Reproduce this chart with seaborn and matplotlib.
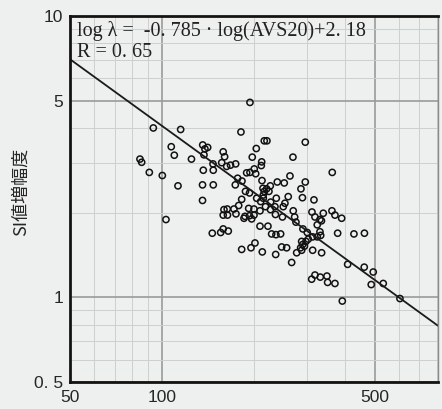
import matplotlib
matplotlib.use('Agg')
import matplotlib.pyplot as plt
import seaborn as sns
import pandas as pd
import numpy as np

# AVS20 (x) and SI amplification (y)
avs20 = [84.8, 85.9, 91.0, 93.8, 100.4, 103.2, 107.4, 109.9, 113.0, 115.3,
         125.1, 136.2, 138.5, 141.4, 137.5, 136.8, 147.2, 147.5, 136.0, 147.5,
         136.0, 159.0, 160.7, 157.2, 163.2, 168.0, 174.7, 159.9, 163.9, 172.4,
         175.1, 159.0, 164.2, 146.4, 156.0, 159.0, 165.2, 181.8, 194.6, 216.8,
         221.2, 295.5, 204.1, 198.0, 269.2, 212.6, 212.0, 201.0, 194.6, 189.8,
         203.2, 177.3, 183.2, 174.2, 213.1, 239.2, 252.1, 263.2, 295.5, 286.0,
         362.2, 226.9, 214.7, 220.7, 216.8, 224.6, 215.2, 188.1, 193.9, 259.8,
         182.8, 204.7, 215.2, 237.4, 289.2, 315.5, 211.0, 227.5, 253.4, 178.7,
         192.7, 200.6, 209.9, 218.8, 227.2, 235.0, 250.2, 269.8, 310.8, 338.5,
         361.4, 187.4, 193.9, 200.6, 197.1, 186.0, 235.9, 248.7, 272.7, 317.9,
         330.1, 275.4, 323.4, 333.9, 369.7, 388.9, 209.9, 222.9, 290.3, 299.9,
         330.1, 229.2, 236.8, 245.3, 312.4, 323.4, 331.9, 377.3, 426.7, 461.9,
         202.1, 196.1, 182.8, 213.6, 247.2, 256.7, 287.5, 289.7, 285.3, 287.5,
         297.0, 302.2, 312.4, 334.3, 236.3, 276.9, 266.6, 406.9, 461.2, 493.6,
         486.2, 532.4, 603.9, 390.8, 310.1, 317.9, 330.9, 348.0, 349.8, 369.7,
         293.6]
si_gain = [3.10, 3.02, 2.78, 4.00, 2.71, 1.89, 3.43, 3.20, 2.49, 3.95,
           3.10, 3.48, 3.37, 3.41, 3.21, 2.83, 2.98, 2.83, 2.51, 2.51,
           2.21, 3.29, 3.16, 3.01, 2.92, 2.95, 2.98, 2.05, 2.06, 2.06,
           1.98, 1.96, 1.96, 1.69, 1.70, 1.75, 1.72, 3.87, 4.93, 3.60,
           3.60, 3.56, 3.38, 3.15, 3.15, 3.03, 2.94, 2.86, 2.78, 2.77,
           2.75, 2.65, 2.59, 2.51, 2.60, 2.57, 2.55, 2.70, 2.57, 2.43,
           2.78, 2.49, 2.44, 2.43, 2.38, 2.38, 2.31, 2.38, 2.35, 2.28,
           2.23, 2.25, 2.25, 2.25, 2.26, 2.22, 2.19, 2.18, 2.16, 2.12,
           2.07, 2.06, 2.03, 2.10, 2.05, 2.10, 2.10, 2.03, 2.01, 1.99,
           2.03, 1.94, 1.95, 1.96, 1.90, 1.91, 1.97, 1.93, 1.93, 1.93,
           1.89, 1.85, 1.81, 1.87, 1.96, 1.91, 1.79, 1.79, 1.75, 1.70,
           1.71, 1.68, 1.67, 1.68, 1.64, 1.64, 1.66, 1.69, 1.68, 1.69,
           1.56, 1.50, 1.48, 1.45, 1.51, 1.50, 1.58, 1.54, 1.50, 1.47,
           1.58, 1.61, 1.47, 1.44, 1.42, 1.44, 1.33, 1.31, 1.28, 1.23,
           1.11, 1.12, 0.99, 0.97, 1.16, 1.20, 1.18, 1.19, 1.13, 1.12,
           1.52]

# regression: log(lambda) = slope * log(AVS20) + intercept
slope = -0.785
intercept = 2.18

x_ticks = [50, 100, 500]
x_labels = ['50', '100', '500']
y_ticks = [0.5, 1, 5, 10]
y_labels = ['0. 5', '1', '5', '10']
x_minor = [60, 70, 80, 90, 200, 300, 400, 600, 700, 800]
y_minor = [0.6, 0.7, 0.8, 0.9, 2, 3, 4, 6, 7, 8, 9]

df = pd.DataFrame({'AVS20': avs20, 'SI': si_gain})

sns.set_style('white')
plt.rcParams['font.family'] = ['Liberation Sans', 'Noto Sans CJK JP']

bg = '#edf0ee'
fig = plt.figure(figsize=(4.42, 4.09), dpi=100, facecolor=bg)
ax = fig.add_axes([70 / 442, 27 / 409, 368 / 442, 366 / 409])
ax.set_facecolor(bg)
ax.set_xscale('log')
ax.set_yscale('log')
ax.set_xlim(50, 805)
ax.set_ylim(0.5, 10)

ax.set_xticks(x_minor, minor=True)
ax.set_yticks(y_minor, minor=True)
ax.set_xticks(x_ticks)
ax.set_xticklabels(x_labels)
ax.set_yticks(y_ticks)
ax.set_yticklabels(y_labels)
ax.tick_params(axis='both', which='both', length=0, labelsize=12.5)
ax.tick_params(axis='x', pad=6)
ax.tick_params(axis='y', pad=5)
ax.xaxis.set_minor_formatter(plt.NullFormatter())
ax.yaxis.set_minor_formatter(plt.NullFormatter())

ax.grid(True, which='major', color='#9a9a9a', linewidth=1.2)
ax.grid(True, which='minor', color='#cdcfcd', linewidth=0.7)
ax.set_axisbelow(True)

xs = np.logspace(np.log10(50), np.log10(805), 50)
ys = 10 ** (slope * np.log10(xs) + intercept)
sns.lineplot(x=xs, y=ys, ax=ax, color='#1a1a1a', linewidth=1.3)

sns.scatterplot(data=df, x='AVS20', y='SI', ax=ax, marker='o', s=20,
                facecolor='none', edgecolor='#111111', linewidth=1.1)

for side in ['left', 'bottom', 'top']:
    ax.spines[side].set_color('#151310')
    ax.spines[side].set_linewidth(2)
ax.spines['right'].set_color('#8a8a8a')
ax.spines['right'].set_linewidth(1.0)

ax.set_xlabel('')
ax.set_ylabel('SI値増幅度', fontsize=13, family=['Noto Sans CJK JP'])
ax.yaxis.set_label_coords(-0.11, 0.52)

ax.text(0.018, 0.985, 'log λ =  -0. 785 · log(AVS20)+2. 18\nR = 0. 65',
        transform=ax.transAxes, ha='left', va='top', fontsize=14.5,
        family=['Liberation Serif'], color='#222222', linespacing=1.1)

fig.savefig('out.png', dpi=100, facecolor=bg)
